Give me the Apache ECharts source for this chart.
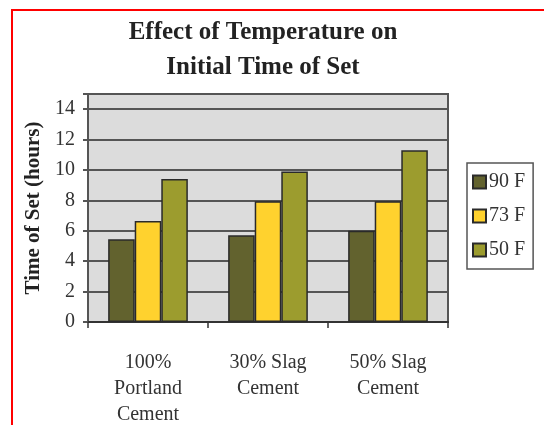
<!DOCTYPE html>
<html>
<head>
<meta charset="utf-8">
<script src="https://cdn.jsdelivr.net/npm/echarts@6/dist/echarts.min.js"></script>
<style>
html,body{margin:0;padding:0;background:#fff;}
#chart{width:544px;height:425px;}
</style>
</head>
<body>
<div id="chart"></div>
<script>
const categories = ['100%\nPortland\nCement', '30% Slag\nCement', '50% Slag\nCement'];
const seriesNames = ['90 F', '73 F', '50 F'];
const temp90 = [5.45, 5.7, 6.0];
const temp73 = [6.65, 7.95, 7.95];
const temp50 = [9.4, 9.9, 11.3];
const colors = ['#62622e', '#ffd22e', '#9c9c2e'];

const serif = '"Liberation Serif", "Times New Roman", serif';
const chart = echarts.init(document.getElementById('chart'));
const values = [temp90, temp73, temp50];

chart.setOption({
  animation: false,
  backgroundColor: '#ffffff',
  graphic: [
    { type: 'rect', shape: { x: 12, y: 10, width: 700, height: 600 }, style: { fill: 'none', stroke: '#ff0000', lineWidth: 2 }, z: 100 },
    { type: 'text', x: 263, y: 15, style: { text: 'Effect of Temperature on\nInitial Time of Set', textAlign: 'center', font: 'bold 25px ' + serif, lineHeight: 35, fill: '#222' } }
  ],
  grid: {
    left: 88, right: 96, top: 94, bottom: 103,
    containLabel: false, outerBoundsMode: 'none',
    show: true, backgroundColor: '#dcdcdc', borderColor: '#555', borderWidth: 2
  },
  legend: {
    orient: 'vertical', left: 467, top: 163,
    data: seriesNames,
    icon: 'rect', itemWidth: 13, itemHeight: 13, itemGap: 14,
    borderColor: '#555', borderWidth: 1.5,
    padding: [9, 8, 9, 5],
    textStyle: { fontFamily: serif, fontSize: 20, color: '#333', padding: [0, 0, 0, -2] }
  },
  xAxis: {
    type: 'category', data: categories,
    axisLine: { lineStyle: { color: '#333', width: 2 } },
    axisTick: { show: true, length: 6, lineStyle: { color: '#333', width: 1.5 } },
    axisLabel: { fontFamily: serif, fontSize: 20, color: '#333', lineHeight: 26, margin: 28, interval: 0 }
  },
  yAxis: {
    type: 'value', min: 0, max: 15, interval: 2,
    name: 'Time of Set (hours)', nameLocation: 'middle', nameGap: 44,
    nameTextStyle: { fontFamily: serif, fontSize: 21, fontWeight: 'bold', color: '#222' },
    axisLine: { show: true, lineStyle: { color: '#555', width: 2 } },
    axisTick: { show: true, length: 5, lineStyle: { color: '#555', width: 2 } },
    axisLabel: { fontFamily: serif, fontSize: 20, color: '#333', margin: 13,
      formatter: v => (v === 15 ? '' : String(v)) },
    splitLine: { show: true, lineStyle: { color: '#555', width: 2 } }
  },
  series: seriesNames.map((name, i) => ({
    name, type: 'bar', data: values[i],
    barGap: '0%', barCategoryGap: '33.6%',
    itemStyle: { color: colors[i], borderColor: '#2a2a2a', borderWidth: 1.5 }
  }))
});
</script>
</body>
</html>
